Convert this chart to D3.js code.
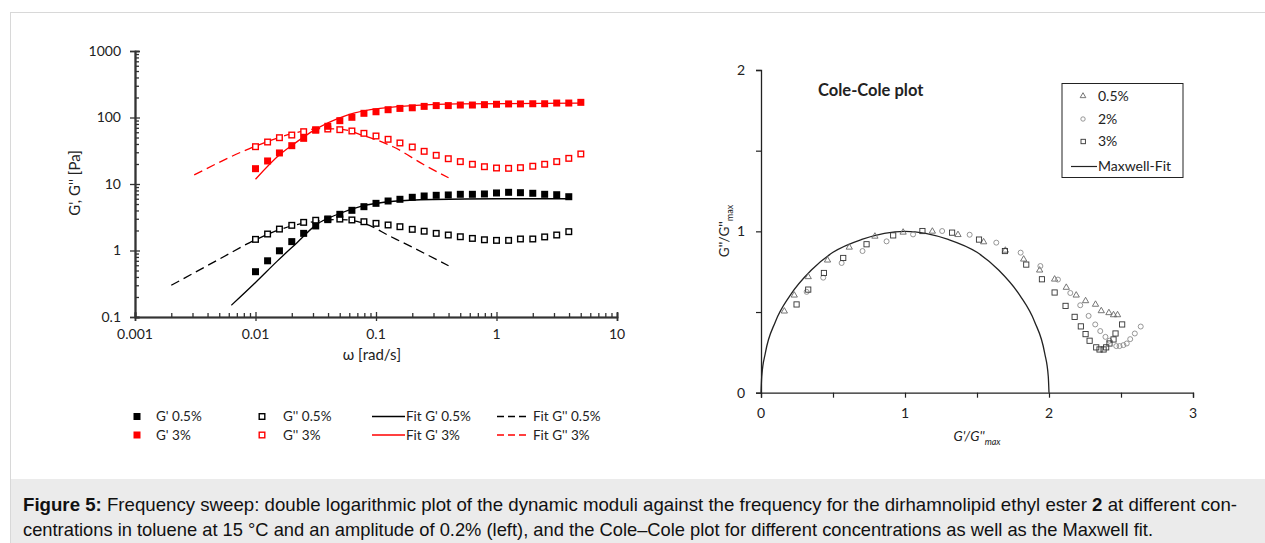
<!DOCTYPE html>
<html>
<head>
<meta charset="utf-8">
<script src="https://cdn.jsdelivr.net/npm/d3@7"></script>
<style>
  body { margin: 0; background: #fff; }
  svg { display: block; }
  text { font-family: Lato, 'Open Sans', sans-serif; fill: #222; }
  .caption text { font-family: 'Liberation Sans', Arial, sans-serif; fill: #111; }
</style>
</head>
<body>
<svg id="fig"></svg>
<script>
// ---- frequency sweep data ----
const omega = [0.01, 0.0126, 0.0158, 0.02, 0.0251, 0.0316, 0.0398, 0.0501, 0.0631, 0.0794,
  0.1, 0.126, 0.158, 0.2, 0.251, 0.316, 0.398, 0.501, 0.631, 0.794,
  1, 1.26, 1.58, 2, 2.51, 3.16, 3.98, 5.01];
const gPrime05 = [0.48, 0.70, 0.99, 1.36, 1.81, 2.34, 2.91, 3.50, 4.02, 4.56, 5.12, 5.55, 5.89, 6.31,
  6.6, 6.76, 6.84, 7.0, 7.0, 7.08, 7.33, 7.5, 7.4, 7.25, 7.0, 6.9, 6.44];
const gDouble05 = [1.47, 1.77, 2.10, 2.39, 2.65, 2.85, 2.98, 2.97, 2.88, 2.71, 2.56, 2.42, 2.28, 2.08,
  1.95, 1.81, 1.71, 1.61, 1.52, 1.45, 1.42, 1.42, 1.49, 1.49, 1.60, 1.71, 1.92];
const gPrime3 = [17.0, 22.2, 29.3, 37.7, 48.6, 64.9, 73.8, 89.6, 100.7, 115.6, 122, 131, 137, 140,
  147, 151, 151, 154, 154, 156, 158, 160, 160, 161, 161, 165, 165, 169];
const gDouble3 = [36.4, 42.8, 49.7, 54.5, 61.2, 64.9, 67.1, 65.6, 62.7, 57.8, 52.7, 47.0, 41.4, 36.0,
  31.0, 27.0, 24.0, 21.7, 19.8, 18.2, 17.4, 17.2, 17.6, 18.5, 19.8, 21.7, 24.3, 28.3];

// fit curves [omega, modulus]
const fitGPrime05 = [[0.0063, 0.15], [0.01, 0.33], [0.015, 0.68], [0.022, 1.3], [0.032, 2.45], [0.05, 3.6],
  [0.075, 4.6], [0.14, 5.5], [0.3, 5.85], [1, 6.0], [4, 6.0]];
const fitGDouble05 = [[0.002, 0.30], [0.005, 0.74], [0.01, 1.45], [0.02, 2.35], [0.03, 2.7], [0.05, 2.92],
  [0.08, 2.55], [0.13, 1.65], [0.2, 1.12], [0.4, 0.59]];
const fitGPrime3 = [[0.01, 11.8], [0.016, 28], [0.022, 43], [0.03, 63], [0.057, 108], [0.108, 137],
  [0.47, 160], [5, 165]];
const fitGDouble3 = [[0.0031, 13.7], [0.0096, 36], [0.02, 57], [0.035, 68], [0.05, 67], [0.08, 53],
  [0.14, 36], [0.25, 19.5], [0.4, 12.4]];

const xTicksLeft = [0.001, 0.01, 0.1, 1, 10];
const xTickLabelsLeft = ['0.001', '0.01', '0.1', '1', '10'];
const yTicksLeft = [0.1, 1, 10, 100, 1000];
const yTickLabelsLeft = ['0.1', '1', '10', '100', '1000'];

// ---- Cole-Cole data (G'/G''max, G''/G''max) ----
const cc05x = [0.162, 0.231, 0.328, 0.462, 0.613, 0.791, 0.987, 1.190, 1.368, 1.546, 1.697, 1.824, 1.935,
  2.039, 2.120, 2.189, 2.254, 2.323, 2.363, 2.416, 2.448, 2.476];
const cc05y = [0.505, 0.604, 0.718, 0.821, 0.901, 0.969, 0.994, 1.0, 0.979, 0.934, 0.882, 0.827, 0.759,
  0.703, 0.652, 0.604, 0.569, 0.547, 0.507, 0.495, 0.482, 0.482];
const cc2x = [0.317, 0.432, 0.560, 0.705, 0.872, 1.056, 1.258, 1.449, 1.634, 1.803, 1.940, 2.062, 2.148,
  2.217, 2.275, 2.321, 2.356, 2.392, 2.420, 2.467, 2.490, 2.517, 2.540, 2.564, 2.596, 2.637];
const cc2y = [0.625, 0.713, 0.804, 0.878, 0.938, 0.981, 1.002, 0.979, 0.930, 0.868, 0.785, 0.701, 0.618,
  0.542, 0.476, 0.423, 0.382, 0.346, 0.322, 0.289, 0.289, 0.295, 0.305, 0.332, 0.367, 0.410];
const cc3x = [0.247, 0.328, 0.437, 0.571, 0.733, 0.918, 1.121, 1.327, 1.514, 1.694, 1.842, 1.951, 2.039,
  2.115, 2.178, 2.221, 2.254, 2.282, 2.328, 2.351, 2.379, 2.397, 2.420, 2.448, 2.462, 2.508];
const cc3y = [0.547, 0.639, 0.742, 0.835, 0.920, 0.975, 1.002, 0.992, 0.949, 0.878, 0.794, 0.703, 0.621,
  0.538, 0.470, 0.411, 0.363, 0.322, 0.281, 0.268, 0.268, 0.281, 0.305, 0.330, 0.367, 0.423];
const maxwellX = [0, 0.005, 0.03, 0.1, 0.2, 0.35, 0.5, 0.7, 1, 1.3, 1.5, 1.65, 1.8, 1.9, 1.97, 1.995, 2];
const maxwellY = [0, 0.1, 0.245, 0.44, 0.6, 0.76, 0.87, 0.95, 1, 0.95, 0.87, 0.76, 0.6, 0.44, 0.245, 0.1, 0];

const ccTicks = [0, 1, 2, 3];
const ccTicksY = [0, 1, 2];

const W = 1265, H = 543;
const svg = d3.select('#fig').attr('width', W).attr('height', H);

// frame + caption band
svg.append('rect').attr('x', 10.5).attr('y', 12.5).attr('width', W).attr('height', H)
  .attr('fill', 'none').attr('stroke', '#d8d8d8');
svg.append('rect').attr('x', 11).attr('y', 479).attr('width', W).attr('height', H - 479)
  .attr('fill', '#ebebeb');

// ================= left: frequency sweep =================
const x = d3.scaleLog().domain([0.001, 10]).range([135, 617]);
const y = d3.scaleLog().domain([0.1, 1000]).range([317, 51]);

function minorTicks(lo, hi) {
  const out = [];
  for (let d = lo; d < hi; d *= 10) for (let m = 2; m <= 9; m++) out.push(d * m);
  return out;
}

const left = svg.append('g');

// x axis
left.append('g').attr('transform', 'translate(0,317)')
  .call(d3.axisBottom(x).tickValues(minorTicks(0.001, 10)).tickSize(-4).tickFormat(''));
left.append('g').attr('transform', 'translate(0,317)')
  .call(d3.axisBottom(x).tickValues(xTicksLeft).tickSize(4).tickFormat(''));
left.append('g').attr('transform', 'translate(0,317)')
  .call(d3.axisBottom(x).tickValues(xTicksLeft).tickSize(-5).tickFormat(''));
left.append('g').selectAll('text').data(xTicksLeft).enter().append('text')
  .attr('x', d => x(d)).attr('y', 339).attr('text-anchor', 'middle')
  .attr('font-size', 14).text((d, i) => xTickLabelsLeft[i]);

// y axis
left.append('g').attr('transform', 'translate(135,0)')
  .call(d3.axisLeft(y).tickValues(minorTicks(0.1, 1000)).tickSize(-4).tickFormat(''));
left.append('g').attr('transform', 'translate(135,0)')
  .call(d3.axisLeft(y).tickValues(yTicksLeft).tickSize(5).tickFormat(''));
left.append('g').attr('transform', 'translate(135,0)')
  .call(d3.axisLeft(y).tickValues(yTicksLeft).tickSize(-5).tickFormat(''));
left.append('g').selectAll('text').data(yTicksLeft).enter().append('text')
  .attr('x', 121).attr('y', d => y(d)).attr('dy', '0.35em').attr('text-anchor', 'end')
  .attr('font-size', 14).text((d, i) => yTickLabelsLeft[i]);

left.selectAll('.domain').attr('stroke', '#333').attr('stroke-width', 1.6);
left.selectAll('.tick line').attr('stroke', '#333').attr('stroke-width', 1.3);

left.append('text').attr('transform', 'translate(80,183) rotate(-90)')
  .attr('text-anchor', 'middle').attr('font-size', 15).text("G', G'' [Pa]");
left.append('text').attr('x', 372).attr('y', 360).attr('text-anchor', 'middle')
  .attr('font-size', 15).text('ω [rad/s]');

// fit lines
const fitLine = d3.line().x(d => x(d[0])).y(d => y(d[1])).curve(d3.curveMonotoneX);
const fits = [
  { data: fitGDouble05, color: '#000', dash: '9,5' },
  { data: fitGPrime05, color: '#000', dash: null },
  { data: fitGDouble3, color: '#ff0000', dash: '9,5' },
  { data: fitGPrime3, color: '#ff0000', dash: null }
];
fits.forEach(f => {
  left.append('path').datum(f.data).attr('d', fitLine)
    .attr('fill', 'none').attr('stroke', f.color).attr('stroke-width', 1.3)
    .attr('stroke-dasharray', f.dash);
});

// markers
const sq = 7;
function squares(values, color, filled) {
  left.append('g').selectAll('rect').data(values).enter().append('rect')
    .attr('x', (d, i) => x(omega[i]) - sq / 2)
    .attr('y', d => y(d) - sq / 2)
    .attr('width', filled ? sq : sq - 1.4).attr('height', filled ? sq : sq - 1.4)
    .attr('transform', filled ? null : 'translate(0.7,0.7)')
    .attr('fill', filled ? color : '#fff')
    .attr('stroke', filled ? 'none' : color).attr('stroke-width', 1.4);
}
squares(gDouble05, '#000', false);
squares(gPrime05, '#000', true);
squares(gDouble3, '#ff0000', false);
squares(gPrime3, '#ff0000', true);

// legend
const legendItems = [
  { label: "G' 0.5%", type: 'fill', color: '#000', col: 0, row: 0 },
  { label: "G' 3%", type: 'fill', color: '#ff0000', col: 0, row: 1 },
  { label: "G'' 0.5%", type: 'open', color: '#000', col: 1, row: 0 },
  { label: "G'' 3%", type: 'open', color: '#ff0000', col: 1, row: 1 },
  { label: "Fit G' 0.5%", type: 'solid', color: '#000', col: 2, row: 0 },
  { label: "Fit G' 3%", type: 'solid', color: '#ff0000', col: 2, row: 1 },
  { label: "Fit G'' 0.5%", type: 'dash', color: '#000', col: 3, row: 0 },
  { label: "Fit G'' 3%", type: 'dash', color: '#ff0000', col: 3, row: 1 }
];
const colX = [137, 262, 372, 497];
const textX = [156, 283, 406, 533];
const rowY = [416.5, 435];
const lg = left.append('g');
legendItems.forEach(it => {
  const cx = colX[it.col], cy = rowY[it.row];
  if (it.type === 'fill') {
    lg.append('rect').attr('x', cx - 3.5).attr('y', cy - 3.5).attr('width', 7).attr('height', 7).attr('fill', it.color);
  } else if (it.type === 'open') {
    lg.append('rect').attr('x', cx - 2.8).attr('y', cy - 2.8).attr('width', 5.6).attr('height', 5.6)
      .attr('fill', '#fff').attr('stroke', it.color).attr('stroke-width', 1.4);
  } else {
    lg.append('line').attr('x1', cx).attr('x2', cx + 33).attr('y1', cy).attr('y2', cy)
      .attr('stroke', it.color).attr('stroke-width', 1.3)
      .attr('stroke-dasharray', it.type === 'dash' ? '7,4' : null);
  }
  lg.append('text').attr('x', textX[it.col]).attr('y', cy).attr('dy', '0.35em')
    .attr('font-size', 13.5).text(it.label);
});

// ================= right: Cole-Cole =================
const cx = d3.scaleLinear().domain([0, 3]).range([761, 1193]);
const cy = d3.scaleLinear().domain([0, 2]).range([392.7, 70]);
const right = svg.append('g');

right.append('g').attr('transform', 'translate(0,392.7)')
  .call(d3.axisBottom(cx).tickValues(d3.range(0, 3.01, 0.5)).tickSize(5).tickFormat(''));
right.append('g').attr('transform', 'translate(761,0)')
  .call(d3.axisLeft(cy).tickValues(d3.range(0, 2.01, 0.5)).tickSize(5).tickFormat(''));
right.selectAll('.domain').attr('stroke', '#222').attr('stroke-width', 1.3);
right.selectAll('.tick line').attr('stroke', '#222').attr('stroke-width', 1.2);

right.append('g').selectAll('text').data(ccTicks).enter().append('text')
  .attr('x', d => cx(d)).attr('y', 418).attr('text-anchor', 'middle')
  .attr('font-size', 14).attr('fill', '#333').text(d => d);
right.append('g').selectAll('text').data(ccTicksY).enter().append('text')
  .attr('x', 745).attr('y', d => cy(d)).attr('dy', '0.35em').attr('text-anchor', 'end')
  .attr('font-size', 14).attr('fill', '#333').text(d => d);

const yl = right.append('text').attr('transform', 'translate(729,231) rotate(-90)')
  .attr('text-anchor', 'middle').attr('font-size', 13.5);
yl.append('tspan').text("G''/G''");
yl.append('tspan').attr('font-size', 9).attr('dy', 4).text('max');

const xl = right.append('text').attr('x', 977).attr('y', 441).attr('text-anchor', 'middle')
  .attr('font-size', 13.5).attr('font-style', 'italic');
xl.append('tspan').text("G'/G''");
xl.append('tspan').attr('font-size', 9).attr('dy', 4).text('max');

right.append('text').attr('x', 818).attr('y', 96).attr('font-size', 16.5).attr('font-weight', 'bold')
  .attr('fill', '#000').text('Cole-Cole plot');

// Maxwell fit
const maxwell = maxwellX.map((v, i) => [v, maxwellY[i]]);
right.append('path').datum(maxwell)
  .attr('d', d3.line().x(d => cx(d[0])).y(d => cy(d[1])).curve(d3.curveMonotoneX))
  .attr('fill', 'none').attr('stroke', '#222').attr('stroke-width', 1.3);

const tri = d3.symbol().type(d3.symbolTriangle).size(17);
right.append('g').selectAll('path').data(cc05x).enter().append('path')
  .attr('d', tri).attr('transform', (d, i) => `translate(${cx(d)},${cy(cc05y[i])})`)
  .attr('fill', 'none').attr('stroke', '#666').attr('stroke-width', 0.9);
right.append('g').selectAll('circle').data(cc2x).enter().append('circle')
  .attr('cx', d => cx(d)).attr('cy', (d, i) => cy(cc2y[i])).attr('r', 2.5)
  .attr('fill', 'none').attr('stroke', '#8a8a8a').attr('stroke-width', 0.9);
right.append('g').selectAll('rect').data(cc3x).enter().append('rect')
  .attr('x', d => cx(d) - 2.6).attr('y', (d, i) => cy(cc3y[i]) - 2.6).attr('width', 5.2).attr('height', 5.2)
  .attr('fill', 'none').attr('stroke', '#333').attr('stroke-width', 0.9);

// legend box
const lb = right.append('g');
lb.append('rect').attr('x', 1062).attr('y', 83.5).attr('width', 121).attr('height', 94)
  .attr('fill', '#fff').attr('stroke', '#222').attr('stroke-width', 1);
const lbY = [96, 119, 141.5, 166.5];
const lbLabels = ['0.5%', '2%', '3%', 'Maxwell-Fit'];
lb.append('path').attr('d', d3.symbol().type(d3.symbolTriangle).size(14))
  .attr('transform', `translate(1083,${lbY[0]})`).attr('fill', 'none').attr('stroke', '#666').attr('stroke-width', 0.9);
lb.append('circle').attr('cx', 1083).attr('cy', lbY[1]).attr('r', 2.2)
  .attr('fill', 'none').attr('stroke', '#8a8a8a').attr('stroke-width', 0.9);
lb.append('rect').attr('x', 1081).attr('y', lbY[2] - 2.2).attr('width', 4.4).attr('height', 4.4)
  .attr('fill', 'none').attr('stroke', '#333').attr('stroke-width', 0.9);
lb.append('line').attr('x1', 1071).attr('x2', 1097).attr('y1', lbY[3]).attr('y2', lbY[3])
  .attr('stroke', '#222').attr('stroke-width', 1.2);
lb.selectAll('text.lbl').data(lbLabels).enter().append('text')
  .attr('x', 1098).attr('y', (d, i) => lbY[i]).attr('dy', '0.35em')
  .attr('font-size', 14).text(d => d);

// ================= caption =================
const cap = svg.append('g').attr('class', 'caption');
const line1 = cap.append('text').attr('x', 23).attr('y', 511).attr('font-size', 18.2)
  .attr('textLength', 1214).attr('lengthAdjust', 'spacingAndGlyphs');
line1.append('tspan').attr('font-weight', 'bold').text('Figure 5:');
line1.append('tspan').text(' Frequency sweep: double logarithmic plot of the dynamic moduli against the frequency for the dirhamnolipid ethyl ester ');
line1.append('tspan').attr('font-weight', 'bold').text('2');
line1.append('tspan').text(' at different con-');
cap.append('text').attr('x', 23).attr('y', 536).attr('font-size', 18.2)
  .attr('textLength', 1130).attr('lengthAdjust', 'spacingAndGlyphs')
  .text('centrations in toluene at 15 °C and an amplitude of 0.2% (left), and the Cole–Cole plot for different concentrations as well as the Maxwell fit.');
</script>
</body>
</html>
